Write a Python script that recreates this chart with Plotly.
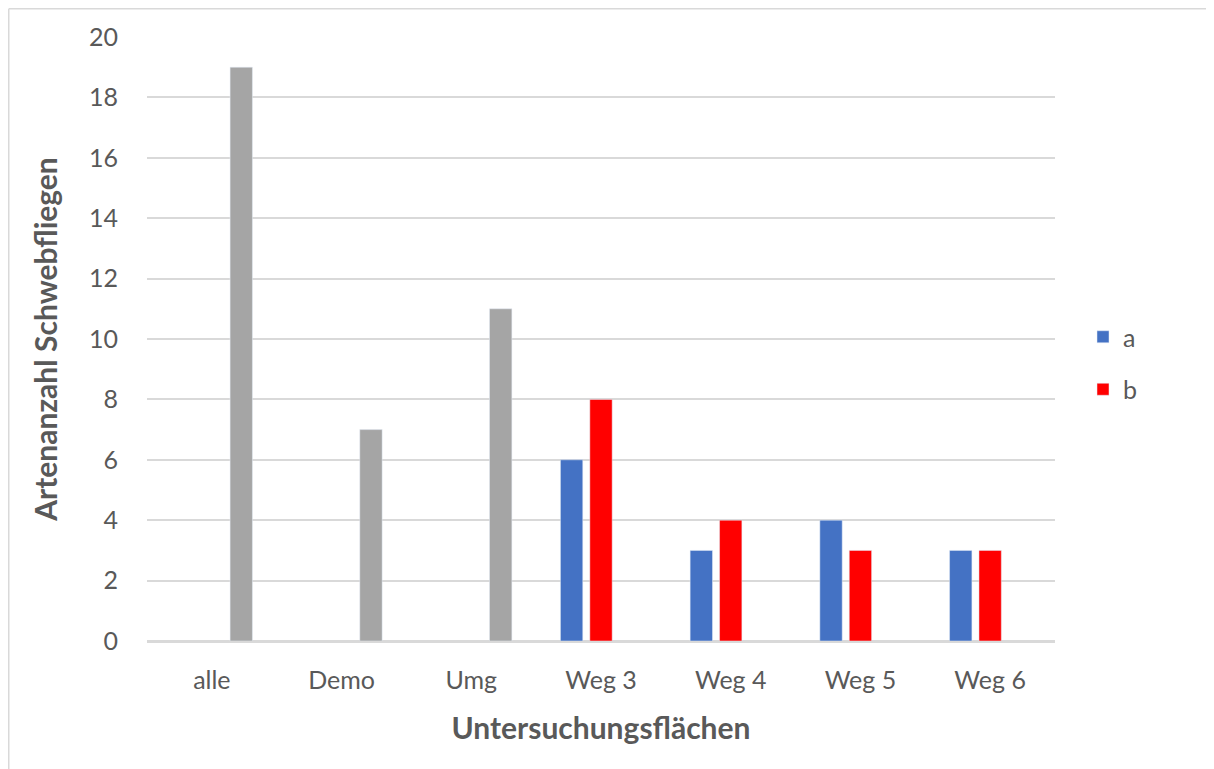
import plotly.graph_objects as go

categories = ["alle", "Demo", "Umg", "Weg 3", "Weg 4", "Weg 5", "Weg 6"]
series_a = [None, None, None, 6, 3, 4, 3]
series_b = [None, None, None, 8, 4, 3, 3]
series_total = [19, 7, 11, None, None, None, None]
y_ticks = [0, 2, 4, 6, 8, 10, 12, 14, 16, 18, 20]

FONT = "Lato, Open Sans, sans-serif"
TXT = "#595959"
GRID = "#d9d9d9"

fig = go.Figure()
fig.add_trace(go.Bar(x=categories, y=series_a, name="a", marker_color="#4472C4",
                     legendgroup="a"))
fig.add_trace(go.Bar(x=categories, y=series_b, name="b", marker_color="#FF0000",
                     legendgroup="b"))
fig.add_trace(go.Bar(x=categories, y=series_total, name="gesamt", marker_color="#A5A5A5",
                     showlegend=False, legendgroup="c"))

# page is rendered with an 8px body margin -> figure origin at (8, 8)
OFF = 8
W, H = 1214 - OFF, 769 - OFF
L, R, T, B = 147 - OFF, 1055 - OFF, 37 - OFF, 641 - OFF

fig.update_layout(
    width=W, height=H,
    margin=dict(l=L, r=W - R, t=T, b=H - B, pad=0),
    paper_bgcolor="white", plot_bgcolor="white",
    barmode="group", bargap=0.32, bargroupgap=0.24,
    font=dict(family=FONT, color=TXT, size=25),
    legend=dict(x=(1083 - OFF - L) / (R - L), xanchor="left",
                y=(B - (363 - OFF)) / (B - T), yanchor="middle",
                font=dict(size=25, color=TXT), tracegroupgap=17,
                bgcolor="rgba(0,0,0,0)"),
    showlegend=True,
)
fig.update_xaxes(
    showgrid=False, showline=True, linecolor=GRID, linewidth=1.5,
    tickfont=dict(size=25, color=TXT), ticks="", ticklabelstandoff=16,
    title=dict(text="<b>Untersuchungsflächen</b>", font=dict(size=30, color=TXT), standoff=25),
)
fig.update_yaxes(
    range=[0, 20], tickvals=y_ticks, showgrid=True, gridcolor=GRID, gridwidth=1.5,
    zeroline=True, zerolinecolor=GRID, zerolinewidth=1.5,
    tickfont=dict(size=25, color=TXT), ticks="", ticklabelstandoff=28,
    title=dict(text="<b>Artenanzahl Schwebfliegen</b>", font=dict(size=30, color=TXT), standoff=22),
)

# outer chart frame (top and left edges visible in the reference)
def px_x(p):
    return (p - L) / (R - L)

def px_y(p):
    return (B - p) / (B - T)

fig.add_shape(type="line", xref="paper", yref="paper",
              x0=px_x(0.75), x1=px_x(W), y0=px_y(0.75), y1=px_y(0.75),
              line=dict(color=GRID, width=1.5))
fig.add_shape(type="line", xref="paper", yref="paper",
              x0=px_x(0.75), x1=px_x(0.75), y0=px_y(0.75), y1=px_y(H),
              line=dict(color=GRID, width=1.5))

fig.write_html("out.html")
